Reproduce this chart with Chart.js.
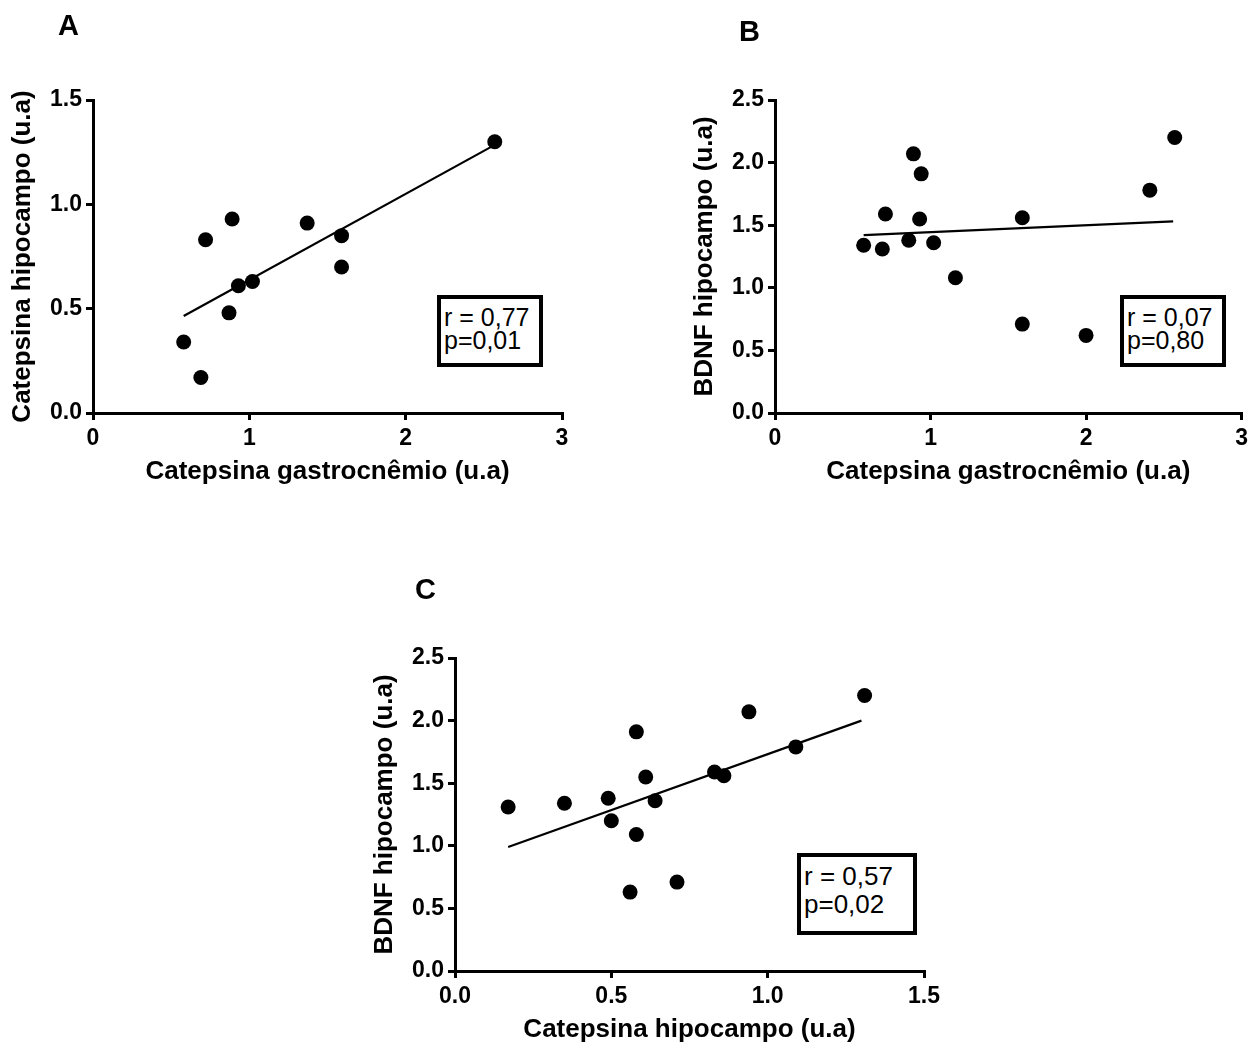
<!DOCTYPE html>
<html>
<head>
<meta charset="utf-8">
<script src="https://cdn.jsdelivr.net/npm/chart.js@4.4.1/dist/chart.umd.min.js"></script>
<style>
  body { margin: 0; background: #fff; }
  #page { position: relative; width: 1253px; height: 1044px; overflow: hidden; background: #fff; }
  canvas { position: absolute; }
  .panel { position: absolute; font: bold 29px "Liberation Sans", Arial, sans-serif; line-height: 29px; color: #000; }
  .stat { position: absolute; box-sizing: border-box; border: 4px solid #000; background: #fff;
          font-family: "Liberation Sans", Arial, sans-serif; color: #000; white-space: nowrap; }
</style>
</head>
<body>
<div id="page">
  <canvas id="chartA" width="620" height="487" style="left:0px;top:0px"></canvas>
  <canvas id="chartB" width="571" height="487" style="left:682px;top:0px"></canvas>
  <canvas id="chartC" width="600" height="485" style="left:362px;top:560px"></canvas>

  <div class="panel" style="left:58px;top:11px">A</div>
  <div class="panel" style="left:739px;top:17px">B</div>
  <div class="panel" style="left:415px;top:575px">C</div>

  <div class="stat" style="left:437px;top:295px;width:106px;height:72px;padding:7px 0 0 3px;font-size:25px;line-height:23px">r = 0,77<br>p=0,01</div>
  <div class="stat" style="left:1120px;top:295px;width:106px;height:72px;padding:7px 0 0 3px;font-size:25px;line-height:23px">r = 0,07<br>p=0,80</div>
  <div class="stat" style="left:797px;top:853px;width:120px;height:82px;padding:5px 0 0 3px;font-size:26px;line-height:28px">r = 0,57<br>p=0,02</div>
</div>

<script>
// Panel A: catepsina gastrocnemio vs catepsina hipocampo
var catGastroA = [0.58, 0.69, 0.72, 0.87, 0.89, 0.93, 1.02, 1.37, 1.59, 1.59, 2.57];
var catHipoA = [0.34, 0.17, 0.83, 0.48, 0.93, 0.61, 0.63, 0.91, 0.85, 0.70, 1.30];
var fitAx = [0.58, 2.57];
var fitAy = [0.465, 1.285];

// Panel B: catepsina gastrocnemio vs BDNF hipocampo
var catGastroB = [0.57, 0.69, 0.71, 0.86, 0.89, 0.94, 0.93, 1.02, 1.16, 1.59, 1.59, 2.00, 2.41, 2.57];
var bdnfB = [1.34, 1.31, 1.59, 1.38, 2.07, 1.91, 1.55, 1.36, 1.08, 1.56, 0.71, 0.62, 1.78, 2.20];
var fitBx = [0.57, 2.56];
var fitBy = [1.42, 1.53];

// Panel C: catepsina hipocampo vs BDNF hipocampo
var catHipoC = [0.17, 0.35, 0.49, 0.50, 0.58, 0.61, 0.58, 0.64, 0.56, 0.71, 0.83, 0.86, 0.94, 1.09, 1.31];
var bdnfC = [1.31, 1.34, 1.38, 1.20, 1.91, 1.55, 1.09, 1.36, 0.63, 0.71, 1.59, 1.56, 2.07, 1.79, 2.20];
var fitCx = [0.17, 1.30];
var fitCy = [0.99, 2.00];

// Tick values and labels
var xTicksAB = [0, 1, 2, 3];
var xLabelsAB = ['0', '1', '2', '3'];
var yTicksA = [0, 0.5, 1.0, 1.5];
var yLabelsA = ['0.0', '0.5', '1.0', '1.5'];
var yTicksBC = [0, 0.5, 1.0, 1.5, 2.0, 2.5];
var yLabelsBC = ['0.0', '0.5', '1.0', '1.5', '2.0', '2.5'];
var xTicksC = [0, 0.5, 1.0, 1.5];
var xLabelsC = ['0.0', '0.5', '1.0', '1.5'];

var FONT = '"Liberation Sans", Arial, sans-serif';

function toPoints(xs, ys) {
    return xs.map((x, i) => ({x: x, y: ys[i]}));
}

function makeAxis(vals, labels, titleText, horizontal) {
    return {
        type: 'linear',
        min: vals[0],
        max: vals[vals.length - 1],
        afterBuildTicks: scale => { scale.ticks = vals.map(v => ({value: v})); },
        // fixed axis box sizes so the plot areas land where the original has them
        afterFit: scale => {
            if (horizontal) scale.height = 74;
            else scale.width = 93;
        },
        grid: { drawOnChartArea: false, drawTicks: true, tickLength: 7, color: '#000', lineWidth: 3 },
        border: { display: true, color: '#000', width: 3 },
        ticks: {
            color: '#000',
            padding: horizontal ? 5 : 4,
            maxRotation: 0,
            font: { family: FONT, size: 23, weight: 'bold' },
            callback: (v, i) => labels[i]
        },
        title: {
            display: true,
            text: titleText,
            color: '#000',
            font: { family: FONT, size: 26, weight: 'bold' },
            padding: horizontal ? {top: 0, bottom: 0} : {top: 7, bottom: 0}
        }
    };
}

function makeChart(id, xs, ys, fx, fy, xVals, xLabels, yVals, yLabels, xTitle, yTitle, pad) {
    var ctx = document.getElementById(id).getContext('2d');
    return new Chart(ctx, {
        type: 'scatter',
        data: {
            datasets: [
                {
                    data: toPoints(xs, ys),
                    backgroundColor: '#000',
                    borderWidth: 0,
                    pointRadius: 7.5,
                    pointHoverRadius: 7.5
                },
                {
                    // regression line
                    type: 'line',
                    data: toPoints(fx, fy),
                    borderColor: '#000',
                    borderWidth: 2.2,
                    pointRadius: 0,
                    fill: false
                }
            ]
        },
        options: {
            responsive: false,
            animation: false,
            layout: { padding: pad },
            plugins: { legend: { display: false }, tooltip: { enabled: false } },
            scales: {
                x: makeAxis(xVals, xLabels, xTitle, true),
                y: makeAxis(yVals, yLabels, yTitle, false)
            }
        }
    });
}

makeChart('chartA', catGastroA, catHipoA, fitAx, fitAy, xTicksAB, xLabelsAB, yTicksA, yLabelsA,
    'Catepsina gastrocnêmio (u.a)', 'Catepsina hipocampo (u.a)', {top: 100, left: 0, right: 58, bottom: 0});
makeChart('chartB', catGastroB, bdnfB, fitBx, fitBy, xTicksAB, xLabelsAB, yTicksBC, yLabelsBC,
    'Catepsina gastrocnêmio (u.a)', 'BDNF hipocampo (u.a)', {top: 100, left: 0, right: 8, bottom: 0});
makeChart('chartC', catHipoC, bdnfC, fitCx, fitCy, xTicksC, xLabelsC, yTicksBC, yLabelsBC,
    'Catepsina hipocampo (u.a)', 'BDNF hipocampo (u.a)', {top: 98, left: 0, right: 38, bottom: 0});
</script>
</body>
</html>
